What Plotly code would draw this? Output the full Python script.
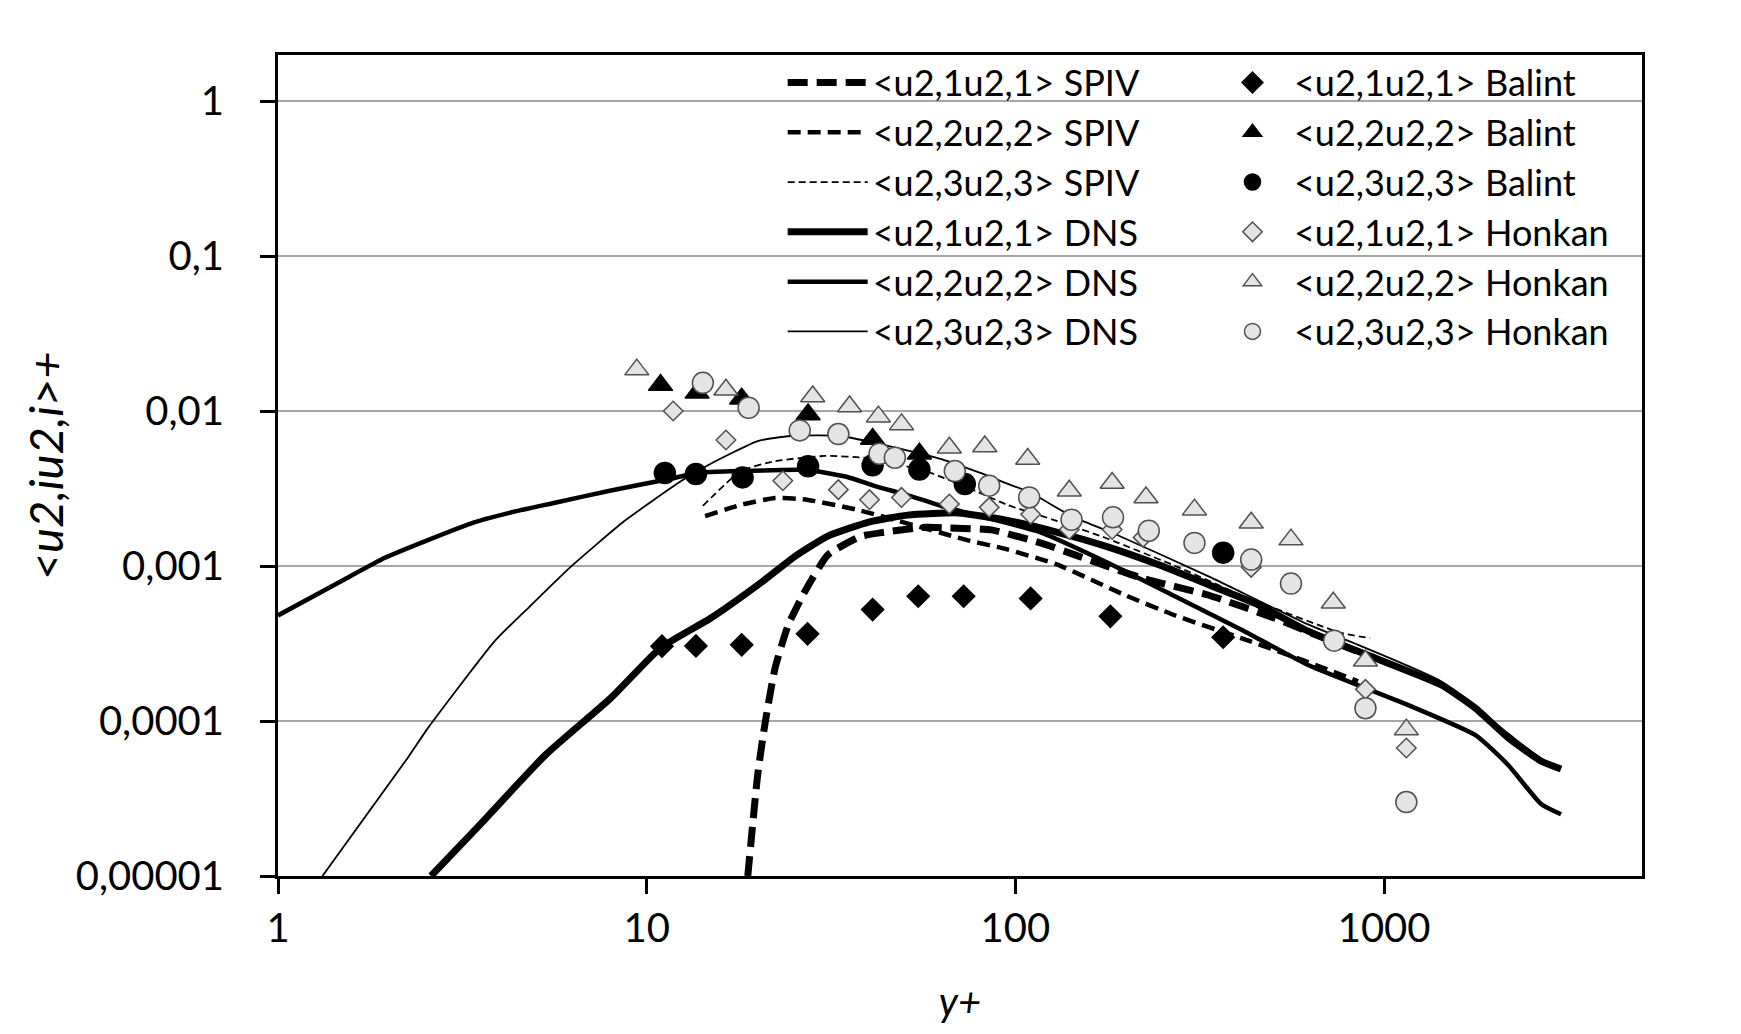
import plotly.graph_objects as go

# axis ticks
X_TICKS = [1, 10, 100, 1000]
X_TICK_TEXT = ["1", "10", "100", "1000"]
Y_TICKS = [1e-5, 1e-4, 1e-3, 1e-2, 1e-1, 1]
Y_TICK_TEXT = ["0,00001", "0,0001", "0,001", "0,01", "0,1", "1"]

# SPIV profiles
SPIV11_X = [18.8, 20.0, 20.9, 22.3, 24.2, 26.9, 31, 38, 44, 57, 66, 86, 117, 145, 219, 333, 506, 692, 850]
SPIV11_Y = [1.0e-5, 4.5e-5, 9.4e-5, 2.2e-4, 4.16e-4, 6.9e-4, 1.18e-3, 1.55e-3, 1.65e-3, 1.78e-3, 1.76e-3,
            1.71e-3, 1.41e-3, 1.18e-3, 8.4e-4, 6.5e-4, 4.6e-4, 3.4e-4, 2.8e-4]
SPIV22_X = [14.4, 18.0, 22.3, 27.4, 37.4, 74, 95, 130, 198, 271, 409, 622, 850]
SPIV22_Y = [2.1e-3, 2.48e-3, 2.75e-3, 2.67e-3, 2.3e-3, 1.47e-3, 1.28e-3, 1.02e-3, 6.5e-4, 4.8e-4, 3.43e-4,
            2.4e-4, 1.8e-4]
SPIV33_X = [14.2, 18.0, 22.3, 30.4, 39.8, 57, 78, 95, 130, 178, 280, 409, 764, 916]
SPIV33_Y = [2.44e-3, 4.1e-3, 4.75e-3, 5.13e-3, 4.97e-3, 4.1e-3, 3.05e-3, 2.48e-3, 1.95e-3, 1.5e-3, 9.7e-4,
            6.5e-4, 3.7e-4, 3.43e-4]

# DNS profiles
DNS11_X = [2.6, 3.5, 5.3, 8.0, 10.9, 14.9, 20.4, 25.3, 31, 40, 51, 70, 95, 130, 178, 250, 333, 450, 622,
           945, 1430, 1770, 2170, 2670, 3020]
DNS11_Y = [1.0e-5, 2.1e-5, 6.0e-5, 1.41e-4, 2.96e-4, 4.6e-4, 7.8e-4, 1.16e-3, 1.56e-3, 1.92e-3, 2.13e-3,
           2.2e-3, 1.97e-3, 1.65e-3, 1.33e-3, 1.0e-3, 7.6e-4, 5.7e-4, 3.8e-4, 2.55e-4, 1.71e-4, 1.21e-4,
           7.8e-5, 5.5e-5, 4.9e-5]
DNS22_X = [1.0, 1.5, 1.95, 2.55, 3.42, 4.4, 5.6, 8.0, 11.9, 13.6, 18, 27.4, 35, 41.6, 51, 63, 78, 117,
           178, 270, 409, 622, 1160, 1770, 2170, 2670, 3020]
DNS22_Y = [4.8e-4, 8.1e-4, 1.13e-3, 1.47e-3, 1.92e-3, 2.25e-3, 2.55e-3, 3.07e-3, 3.7e-3, 3.98e-3, 4.1e-3,
           4.16e-3, 3.75e-3, 3.28e-3, 2.87e-3, 2.44e-3, 2.13e-3, 1.65e-3, 1.05e-3, 6.4e-4, 3.9e-4, 2.3e-4,
           1.27e-4, 8.1e-5, 5.2e-5, 2.9e-5, 2.5e-5]
DNS33_X = [1.32, 2.25, 2.55, 3.88, 4.86, 6.2, 8.7, 12.4, 14.7, 20, 24.6, 33.6, 46, 63, 80, 95, 109, 142,
           185, 333, 622, 850, 1430, 2170, 2670, 3020]
DNS33_Y = [1.0e-5, 5.8e-5, 9.0e-5, 3.3e-4, 5.6e-4, 9.8e-4, 1.95e-3, 3.53e-3, 4.49e-3, 6.4e-3, 6.9e-3,
           6.9e-3, 5.9e-3, 4.9e-3, 4.0e-3, 3.4e-3, 3.0e-3, 2.1e-3, 1.62e-3, 8.6e-4, 4.2e-4, 3.1e-4, 1.8e-4,
           8.3e-5, 5.7e-5, 5.0e-5]

# Balint measurements
BALINT11_X = [11.0, 13.6, 18.1, 27.3, 41.0, 54.5, 72.4, 110, 181, 366]
BALINT11_Y = [3.04e-4, 3.05e-4, 3.1e-4, 3.65e-4, 5.24e-4, 6.38e-4, 6.38e-4, 6.18e-4, 4.74e-4, 3.47e-4]
BALINT22_X = [10.9, 13.7, 18.1, 27.4, 41.0, 54.9]
BALINT22_Y = [1.47e-2, 1.31e-2, 1.2e-2, 9.5e-3, 6.6e-3, 5.3e-3]
BALINT33_X = [11.2, 13.6, 18.2, 27.4, 41.0, 54.9, 72.9, 366]
BALINT33_Y = [3.98e-3, 3.92e-3, 3.73e-3, 4.4e-3, 4.47e-3, 4.19e-3, 3.38e-3, 1.22e-3]

# Honkan measurements
HONKAN11_X = [11.8, 16.4, 23.4, 33.1, 40.2, 49.1, 66.2, 84.9, 110, 140, 183, 222, 436, 890, 1149]
HONKAN11_Y = [1.0e-2, 6.5e-3, 3.55e-3, 3.11e-3, 2.68e-3, 2.77e-3, 2.51e-3, 2.39e-3, 2.16e-3, 1.72e-3,
              1.72e-3, 1.53e-3, 9.8e-4, 1.6e-4, 6.7e-5]
HONKAN22_X = [9.4, 16.4, 28.2, 35.5, 42.5, 49.1, 66.2, 82.6, 108, 140, 183, 226, 306, 436, 559, 728, 890, 1149]
HONKAN22_Y = [1.85e-2, 1.37e-2, 1.24e-2, 1.07e-2, 9.2e-3, 8.2e-3, 5.8e-3, 5.9e-3, 4.9e-3, 3.06e-3, 3.43e-3,
              2.77e-3, 2.31e-3, 1.9e-3, 1.48e-3, 5.8e-4, 2.45e-4, 8.8e-5]
HONKAN33_X = [14.2, 18.9, 26.0, 33.1, 42.8, 47.1, 68.5, 84.9, 109, 142, 184, 230, 306, 436, 559, 732, 890, 1149]
HONKAN33_Y = [1.52e-2, 1.05e-2, 7.5e-3, 7.1e-3, 5.3e-3, 5.0e-3, 4.1e-3, 3.3e-3, 2.77e-3, 1.99e-3, 2.06e-3,
              1.69e-3, 1.41e-3, 1.1e-3, 7.7e-4, 3.3e-4, 1.21e-4, 3.0e-5]

FONT = "Lato"
GRAY_FILL = "#e4e4e4"
GRAY_EDGE = "#505050"

fig = go.Figure()

lines = [
    ("&lt;u2,1u2,1&gt; SPIV", SPIV11_X, SPIV11_Y, 7, "20px,9px"),
    ("&lt;u2,2u2,2&gt; SPIV", SPIV22_X, SPIV22_Y, 4.5, "13px,7px"),
    ("&lt;u2,3u2,3&gt; SPIV", SPIV33_X, SPIV33_Y, 1.8, "7px,4px"),
    ("&lt;u2,1u2,1&gt; DNS", DNS11_X, DNS11_Y, 7, "solid"),
    ("&lt;u2,2u2,2&gt; DNS", DNS22_X, DNS22_Y, 4.5, "solid"),
    ("&lt;u2,3u2,3&gt; DNS", DNS33_X, DNS33_Y, 1.8, "solid"),
]
for name, xs, ys, w, dash in lines:
    fig.add_trace(go.Scatter(
        x=xs, y=ys, name=name, mode="lines", legend="legend",
        line=dict(color="black", width=w, dash=dash, shape="spline", smoothing=0.5),
    ))

points = [
    ("&lt;u2,1u2,1&gt; Balint", BALINT11_X, BALINT11_Y, "diamond", 17, "black", "black"),
    ("&lt;u2,2u2,2&gt; Balint", BALINT22_X, BALINT22_Y, "triangle-up", 21, "black", "black"),
    ("&lt;u2,3u2,3&gt; Balint", BALINT33_X, BALINT33_Y, "circle", 21, "black", "black"),
    ("&lt;u2,1u2,1&gt; Honkan", HONKAN11_X, HONKAN11_Y, "diamond", 15, GRAY_FILL, GRAY_EDGE),
    ("&lt;u2,2u2,2&gt; Honkan", HONKAN22_X, HONKAN22_Y, "triangle-up", 21, GRAY_FILL, GRAY_EDGE),
    ("&lt;u2,3u2,3&gt; Honkan", HONKAN33_X, HONKAN33_Y, "circle", 21, GRAY_FILL, GRAY_EDGE),
]
for name, xs, ys, sym, size, fill, edge in points:
    fig.add_trace(go.Scatter(
        x=xs, y=ys, name=name, mode="markers", legend="legend2",
        marker=dict(symbol=sym, size=size, color=fill, line=dict(color=edge, width=1.5)),
    ))

fig.update_layout(
    width=1741,
    height=1034,
    margin=dict(l=270, r=107, t=47, b=166),
    paper_bgcolor="white",
    plot_bgcolor="white",
    font=dict(family=FONT, color="black", size=40),
    legend=dict(
        x=0.37, y=1.003, xanchor="left", yanchor="top",
        bgcolor="rgba(0,0,0,0)", font=dict(size=36), itemwidth=80, tracegroupgap=0,
    ),
    legend2=dict(
        x=0.684, y=1.003, xanchor="left", yanchor="top",
        bgcolor="rgba(0,0,0,0)", font=dict(size=36), itemwidth=73, tracegroupgap=0,
    ),
    annotations=[dict(
        text="<i>&lt;u2,iu2,i&gt;+</i>", textangle=-90, showarrow=False,
        xref="paper", yref="paper", x=-0.171, y=0.5, xanchor="center", yanchor="middle",
        font=dict(size=47),
    )],
)
fig.update_xaxes(
    type="log", range=[0, 3.6995],
    tickvals=X_TICKS, ticktext=X_TICK_TEXT,
    ticks="outside", ticklen=15, tickwidth=3, tickcolor="black",
    showline=True, linecolor="black", linewidth=3, mirror=True,
    showgrid=False, zeroline=False,
    tickfont=dict(size=40),
    title=dict(text="<i>y+</i>", font=dict(size=40), standoff=38),
)
fig.update_yaxes(
    type="log", range=[-5, 0.297],
    tickvals=Y_TICKS, ticktext=Y_TICK_TEXT,
    ticks="outside", ticklen=15, tickwidth=3, tickcolor="black",
    showline=True, linecolor="black", linewidth=3, mirror=True,
    showgrid=True, gridcolor="#a6a6a6", gridwidth=1.5, zeroline=False,
    tickfont=dict(size=40), ticklabelstandoff=28,
)

fig.write_html("out.html")
